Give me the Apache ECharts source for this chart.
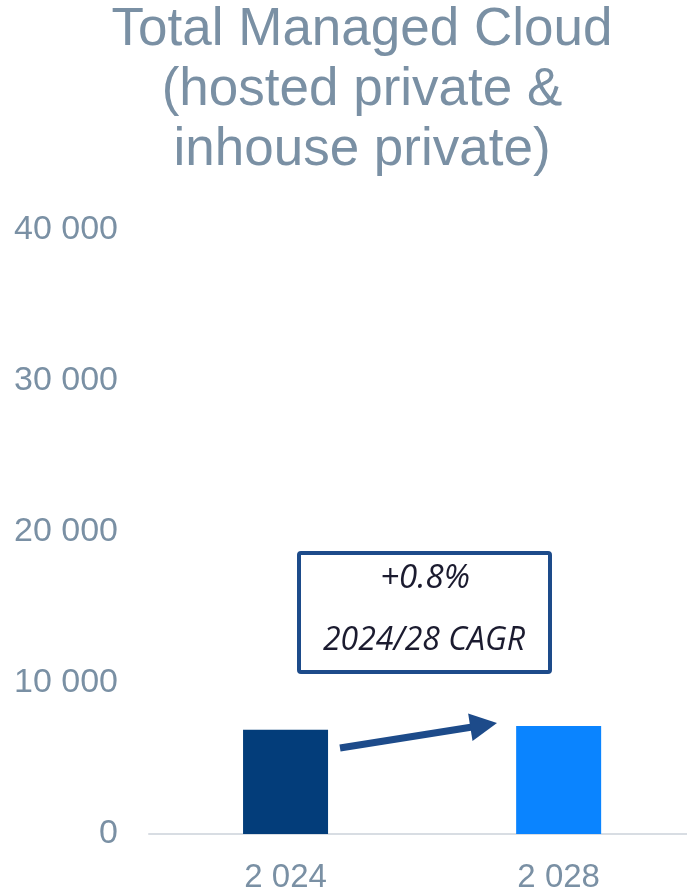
<!DOCTYPE html>
<html>
<head>
<meta charset="utf-8">
<title>Total Managed Cloud</title>
<script src="https://cdn.jsdelivr.net/npm/echarts@6/dist/echarts.min.js"></script>
<style>
  html, body { margin: 0; padding: 0; background: #fff; }
  #chart { width: 687px; height: 894px; }
</style>
</head>
<body>
<div id="chart"></div>
<script>
// data
var years = [2024, 2028];
var values = [6900, 7150];
var barColors = ['#033d7a', '#0a84ff'];
var yTicks = [0, 10000, 20000, 30000, 40000];
var titleLines = ['Total Managed Cloud', '(hosted private &', 'inhouse private)'];
var cagrText = '+0.8%';
var cagrLabel = '2024/28 CAGR';

// "40 000" style grouping
function spaced(n) {
    return String(n).replace(/\B(?=(\d{3})+(?!\d))/g, ' ');
}

var grey = '#7a90a4';
var navy = '#1d4b8a';
var font = 'Liberation Sans, Arial, sans-serif';

var chart = echarts.init(document.getElementById('chart'));

// arrow between the bars
var tail = [340, 748], tip = [497, 723];
var dx = tip[0] - tail[0], dy = tip[1] - tail[1];
var len = Math.sqrt(dx * dx + dy * dy);
var ux = dx / len, uy = dy / len;
var headLen = 27, headHalf = 14;
var bx = tip[0] - ux * headLen, by = tip[1] - uy * headLen;

chart.setOption({
    grid: {
        left: 149,
        right: 0,
        top: 230,
        bottom: 59
    },
    // the plot in the source runs past the right edge, so a value axis
    // is used to place the two years where they sit in the picture
    xAxis: {
        type: 'value',
        min: 2022,
        max: 2029.88,
        splitLine: { show: false },
        axisLine: { lineStyle: { color: '#d8dde3', width: 2 } },
        axisTick: { show: false },
        axisLabel: {
            customValues: years,
            margin: 27,
            fontSize: 33,
            fontFamily: font,
            color: grey,
            formatter: spaced
        }
    },
    yAxis: {
        type: 'value',
        min: yTicks[0],
        max: yTicks[yTicks.length - 1],
        interval: yTicks[1] - yTicks[0],
        axisLine: { show: false },
        axisTick: { show: false },
        splitLine: { show: false },
        axisLabel: {
            margin: 31,
            fontSize: 34,
            fontFamily: font,
            color: grey,
            formatter: spaced
        }
    },
    series: [
        {
            type: 'bar',
            barWidth: 85,
            data: values.map(function (v, i) {
                return { value: [years[i], v], itemStyle: { color: barColors[i] } };
            })
        }
    ],
    graphic: [
        {
            type: 'text',
            x: 362, y: 0,
            style: {
                text: titleLines.join('\n'),
                align: 'center', verticalAlign: 'top',
                fontFamily: font,
                fontSize: 53,
                lineHeight: 60,
                fill: grey
            }
        },
        {
            type: 'rect',
            shape: { x: 299, y: 553, width: 251, height: 119, r: 2 },
            style: { fill: '#fff', stroke: navy, lineWidth: 4 },
            z: 10
        },
        {
            type: 'text',
            x: 425, y: 579,
            style: {
                text: cagrText,
                align: 'center', verticalAlign: 'middle',
                font: 'italic 33px "Open Sans", "Noto Sans", sans-serif',
                fill: '#1b1b2f'
            },
            z: 11
        },
        {
            type: 'text',
            x: 424, y: 641,
            style: {
                text: cagrLabel,
                align: 'center', verticalAlign: 'middle',
                font: 'italic 32px "Open Sans", "Noto Sans", sans-serif',
                fill: '#1b1b2f'
            },
            z: 11
        },
        {
            type: 'line',
            shape: { x1: tail[0], y1: tail[1], x2: bx + ux * 2, y2: by + uy * 2 },
            style: { stroke: navy, lineWidth: 7 },
            z: 10
        },
        {
            type: 'polygon',
            shape: {
                points: [
                    tip,
                    [bx - uy * headHalf, by + ux * headHalf],
                    [bx + uy * headHalf, by - ux * headHalf]
                ]
            },
            style: { fill: navy },
            z: 10
        }
    ]
});
</script>
</body>
</html>
